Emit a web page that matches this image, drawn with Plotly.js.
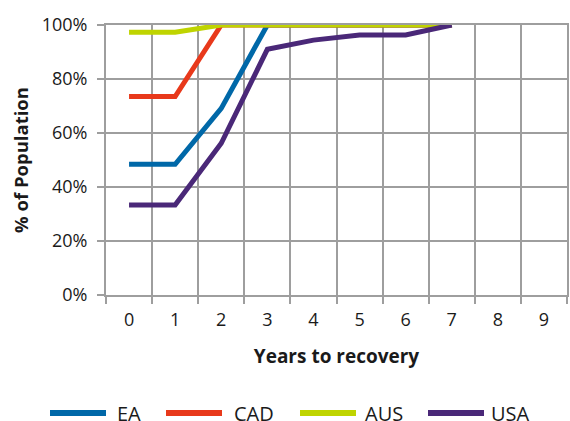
<!DOCTYPE html>
<html>
<head>
<meta charset="utf-8">
<script src="https://cdn.plot.ly/plotly-3.0.1.min.js"></script>
<style>html,body{margin:0;padding:0;background:#fff;}#chart{width:570px;height:421px;}</style>
</head>
<body>
<div id="chart"></div>
<script>
const years = ["0","1","2","3","4","5","6","7","8","9"];
const dataYears = ["0","1","2","3","4","5","6","7"];
const seriesNames = ["EA","CAD","AUS","USA"];
const EA  = [0.484, 0.484, 0.691, 1.0, 1.0, 1.0, 1.0, 1.0];
const CAD = [0.735, 0.735, 1.0, 1.0, 1.0, 1.0, 1.0, 1.0];
const AUS = [0.973, 0.973, 1.0, 1.0, 1.0, 1.0, 1.0, 1.0];
const USA = [0.333, 0.333, 0.562, 0.910, 0.944, 0.963, 0.963, 1.0];
const colors = ["#0068a8", "#e8391b", "#bfd400", "#4a2878"];
const values = [EA, CAD, AUS, USA];

const traces = seriesNames.map((n, i) => ({
  type: "scatter", mode: "lines", name: n,
  x: dataYears, y: values[i],
  line: {color: colors[i], width: 5}
}));

// custom legend in paper coords (plot area: x 106..567, y 25..295)
const legLineStart = [50, 166, 300, 428];
const legTextStart = [116, 233, 364, 490];
const W = 461, H = 270;
const px2x = p => (p - 106) / W;
const py2y = p => (295 - p) / H;
const shapes = [], annotations = [];
seriesNames.forEach((n, i) => {
  shapes.push({type: "line", xref: "paper", yref: "paper",
    x0: px2x(legLineStart[i]), x1: px2x(legLineStart[i] + 56), y0: py2y(413), y1: py2y(413),
    line: {color: colors[i], width: 6}});
  annotations.push({xref: "paper", yref: "paper", x: px2x(legTextStart[i] - 1), y: py2y(413),
    xanchor: "left", yanchor: "middle", showarrow: false, text: n,
    font: {size: 20}});
});

const grid = "#9e9e9e";
const layout = {
  width: 570, height: 421,
  margin: {l: 106, r: 3, t: 25, b: 126, autoexpand: false},
  paper_bgcolor: "#fff", plot_bgcolor: "#fff",
  font: {family: "'Open Sans', sans-serif", size: 16, color: "#1a1a1a"},
  showlegend: false,
  shapes: shapes, annotations: annotations,
  xaxis: {
    type: "category", categoryorder: "array", categoryarray: years,
    range: [-0.5, 9.5], tickson: "boundaries", automargin: false,
    showgrid: true, gridcolor: grid, gridwidth: 2,
    showline: true, linecolor: grid, linewidth: 2, mirror: true,
    ticks: "outside", ticklen: 7, tickcolor: grid, tickwidth: 2,
    ticklabelstandoff: 7,
    zeroline: false, fixedrange: true,
    tickfont: {size: 18},
    title: {text: "<b>Years to recovery</b>", font: {size: 19}, standoff: 20}
  },
  yaxis: {
    type: "linear",
    range: [0, 1], tick0: 0, dtick: 0.2, tickformat: ".0%", automargin: false,
    showgrid: true, gridcolor: grid, gridwidth: 2,
    showline: true, linecolor: grid, linewidth: 2, mirror: true,
    ticks: "outside", ticklen: 7, tickcolor: grid, tickwidth: 2,
    ticklabelstandoff: 6,
    zeroline: false, fixedrange: true,
    tickfont: {size: 18},
    title: {text: "<b>% of Population</b>", font: {size: 18.5}, standoff: 8}
  }
};

Plotly.newPlot("chart", traces, layout, {displayModeBar: false, staticPlot: true});
</script>
</body>
</html>
